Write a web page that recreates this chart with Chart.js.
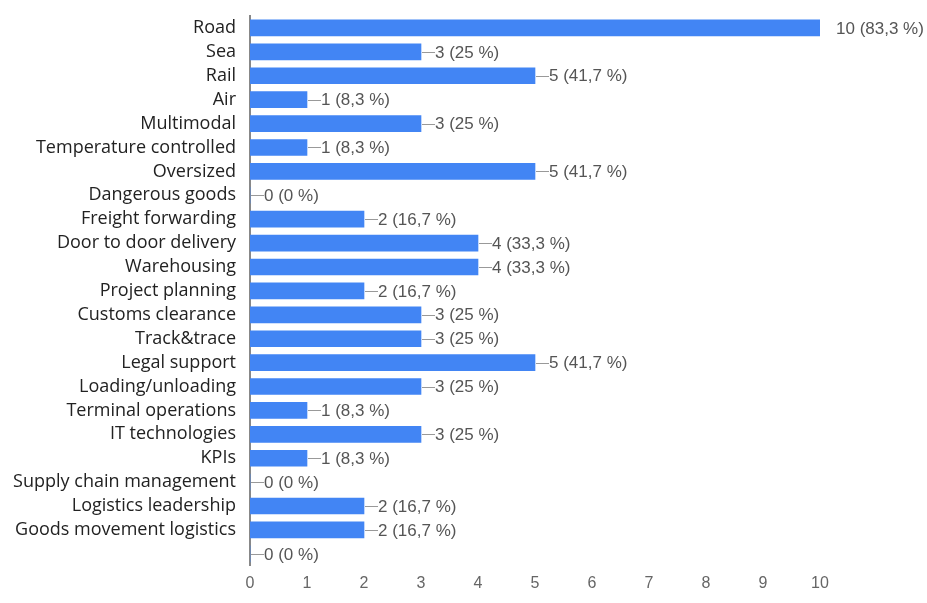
<!DOCTYPE html>
<html><head><meta charset="utf-8">
<script src="https://cdn.jsdelivr.net/npm/chart.js@4"></script>
<style>html,body{margin:0;padding:0;background:#fff}#wrap{width:927px;height:603px;position:relative}</style>
</head><body><div id="wrap"><canvas id="c"></canvas></div>
<script>
const categories = ["Road","Sea","Rail","Air","Multimodal","Temperature controlled","Oversized","Dangerous goods","Freight forwarding","Door to door delivery","Warehousing","Project planning","Customs clearance","Track&trace","Legal support","Loading/unloading","Terminal operations","IT technologies","KPIs","Supply chain management","Logistics leadership","Goods movement logistics",""];
const counts = [10,3,5,1,3,1,5,0,2,4,4,2,3,3,5,3,1,3,1,0,2,2,0];
const percents = ["83,3","25","41,7","8,3","25","8,3","41,7","0","16,7","33,3","33,3","16,7","25","25","41,7","25","8,3","25","8,3","0","16,7","16,7","0"];
const xTicks = [0,1,2,3,4,5,6,7,8,9,10];

const valueLabels = {
  id:'valueLabels',
  afterDatasetsDraw(chart){
    const ctx = chart.ctx, xs = chart.scales.x, ys = chart.scales.y;
    ctx.save();
    ctx.font = '17px "Liberation Sans", Arial, sans-serif';
    ctx.textBaseline = 'middle';
    counts.forEach((v,i)=>{
      const x = xs.getPixelForValue(v), y = ys.getPixelForValue(i);
      let tx;
      if (v === xs.max) { tx = x + 16; }
      else {
        ctx.strokeStyle = '#999'; ctx.lineWidth = 1;
        ctx.beginPath(); ctx.moveTo(x+1, Math.round(y)+0.5); ctx.lineTo(x+14, Math.round(y)+0.5); ctx.stroke();
        tx = x + 14;
      }
      ctx.fillStyle = '#555';
      ctx.fillText(v + ' (' + percents[i] + ' %)', tx, y+1);
    });
    ctx.restore();
  }
};

new Chart(document.getElementById('c'), {
  type:'bar',
  data:{labels:categories, datasets:[{data:counts, backgroundColor:'#4285F4', borderWidth:0, barThickness:16}]},
  options:{
    indexAxis:'y', responsive:true, maintainAspectRatio:false, animation:false,
    layout:{padding:{left:0,right:107,top:16,bottom:2}},
    plugins:{legend:{display:false}, tooltip:{enabled:false}},
    scales:{
      x:{min:0,max:10, afterBuildTicks(s){s.ticks = xTicks.map(v=>({value:v}));},
        grid:{display:false, drawTicks:false}, border:{display:false},
        afterFit(s){s.paddingLeft = 0; s.paddingRight = 0;},
        ticks:{color:'#666', font:{family:'"Liberation Sans", Arial, sans-serif', size:16}, padding:8}},
      y:{grid:{display:false, drawTicks:false}, border:{display:true, color:'#888', width:2},
        afterFit(s){s.width = 250; s.paddingTop = 0; s.paddingBottom = 0;},
        ticks:{color:'#222', font:{family:'"Open Sans", sans-serif', size:18}, padding:14, autoSkip:false}}
    }
  },
  plugins:[valueLabels]
});
</script></body></html>
